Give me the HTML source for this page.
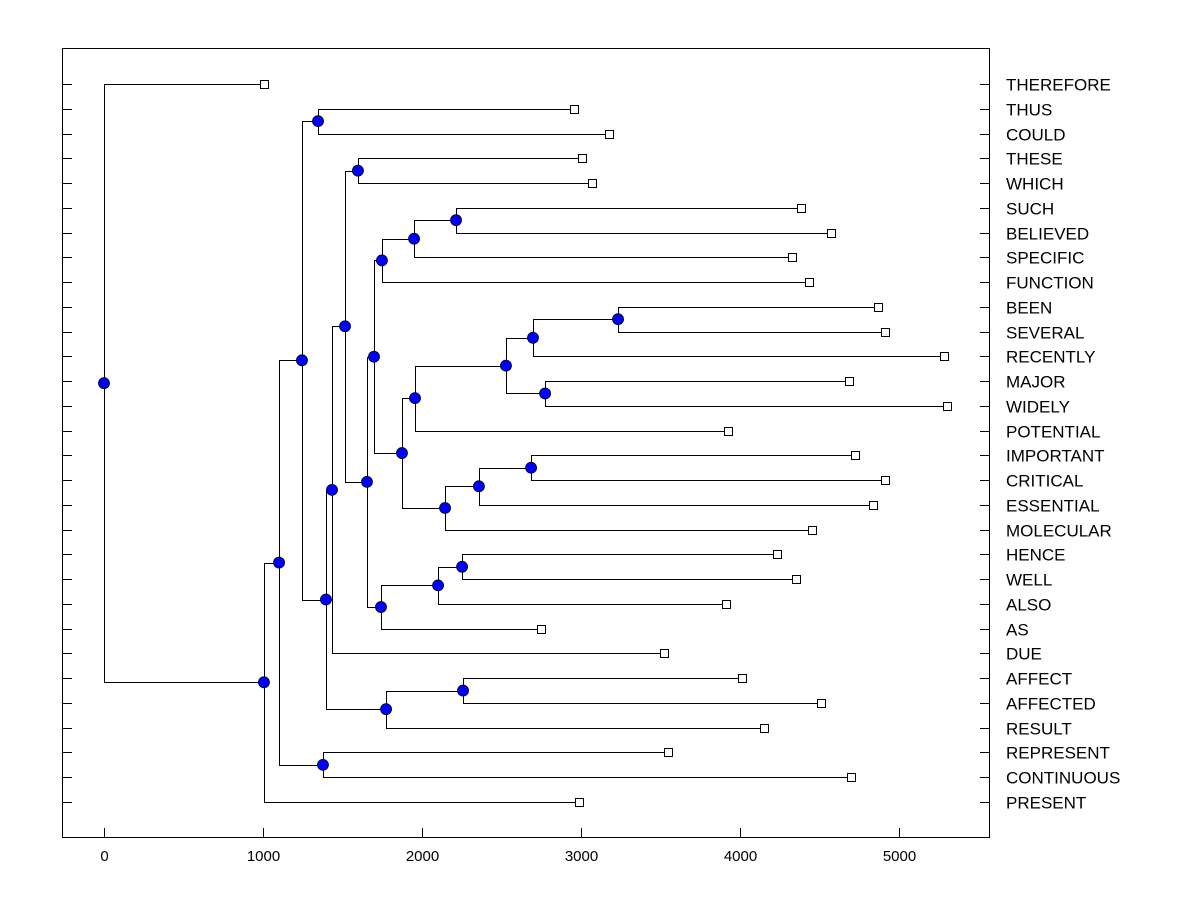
<!DOCTYPE html>
<html><head><meta charset="utf-8"><style>
html,body{margin:0;padding:0;background:#fff;}
svg text{font-family:"Liberation Sans",Arial,sans-serif;fill:#000;}
</style></head><body>
<svg id="chart" width="1200" height="900" viewBox="0 0 1200 900" xmlns="http://www.w3.org/2000/svg">
<rect x="62.5" y="48.5" width="927" height="789" fill="none" stroke="#000" stroke-width="1"/>
<g id="ticks"></g><g id="links"></g><g id="marks"></g><g id="labels"></g>
</svg>
<script>
const leaves = ["THEREFORE","THUS","COULD","THESE","WHICH","SUCH","BELIEVED","SPECIFIC","FUNCTION","BEEN","SEVERAL","RECENTLY","MAJOR","WIDELY","POTENTIAL","IMPORTANT","CRITICAL","ESSENTIAL","MOLECULAR","HENCE","WELL","ALSO","AS","DUE","AFFECT","AFFECTED","RESULT","REPRESENT","CONTINUOUS","PRESENT"];
const leafHeights = [1006,2956,3176,3006,3069,4384,4572,4327,4434,4868,4912,5283,4686,5302,3925,4723,4912,4836,4453,4233,4352,3912,2748,3522,4013,4509,4151,3547,4698,2987];
const mergeA = [1,3,5,32,33,9,35,12,36,38,15,40,41,39,34,19,45,46,44,31,49,24,51,50,30,27,54,56,0];
const mergeB = [2,4,6,7,8,10,11,13,37,14,16,17,18,42,43,20,21,22,47,48,23,25,26,52,53,28,55,29,57];
const mergeHeights = [1346,1597,2214,1950,1748,3233,2698,2774,2528,1956,2686,2358,2145,1874,1698,2252,2101,1742,1654,1516,1434,2258,1774,1396,1245,1377,1101,1006,0];
const xTicks = [0,1000,2000,3000,4000,5000];

const NS="http://www.w3.org/2000/svg";
const xScale = v => 104 + v*0.159;
const rowY = i => 84 + i*(718/29);
const gT=document.getElementById('ticks'),gL=document.getElementById('links'),gM=document.getElementById('marks'),gLab=document.getElementById('labels');
function mk(tag,attrs,parent){const e=document.createElementNS(NS,tag);for(const k in attrs)e.setAttribute(k,attrs[k]);parent.appendChild(e);return e;}

const N=leaves.length;
const px=[],py=[];
leaves.forEach((w,i)=>{px[i]=xScale(leafHeights[i]);py[i]=rowY(i);});
mergeHeights.forEach((h,k)=>{const id=N+k;px[id]=xScale(h);py[id]=(py[mergeA[k]]+py[mergeB[k]])/2;});

leaves.forEach((w,i)=>{
  const y=Math.round(rowY(i))+0.5;
  const t1=mk('line',{x1:62,x2:72,y1:y,y2:y,stroke:'#000'},gT);
  
  
  const t2=mk('line',{x1:980,x2:990,y1:y,y2:y,stroke:'#000'},gT);
  
  
  const tx=mk('text',{x:1006,y:y+6,'font-size':17},gLab);
  tx.textContent=w;
  
  
});
xTicks.forEach(v=>{
  const x=Math.round(xScale(v))+0.5;
  const t=mk('line',{x1:x,x2:x,y1:828,y2:838,stroke:'#000'},gT);
  
  
  const tx=mk('text',{x:x,y:861,'font-size':15,'text-anchor':'middle'},gLab);
  tx.textContent=v;
  
  
});
mergeHeights.forEach((h,k)=>{
  const id=N+k,x=Math.round(px[id])+0.5;
  [mergeA[k],mergeB[k]].forEach(c=>{
    const yc=Math.round(py[c])+0.5;
    const p=mk('path',{d:`M${x},${Math.round(py[id])+0.5}V${yc}H${Math.round(px[c])+0.5}`,fill:'none',stroke:'#000','stroke-width':1},gL);
    
    
  });
});
leaves.forEach((w,i)=>{
  const r=mk('rect',{x:Math.round(px[i])-4+0.5,y:Math.round(py[i])-4+0.5,width:8,height:8,fill:'#fff',stroke:'#000'},gM);
  
  
});
mergeHeights.forEach((h,k)=>{
  const id=N+k;
  const c=mk('circle',{cx:px[id],cy:py[id],r:5.5,fill:'#0000ff',stroke:'#000','stroke-width':0.8},gM);
  
  
});
</script>
</body></html>
